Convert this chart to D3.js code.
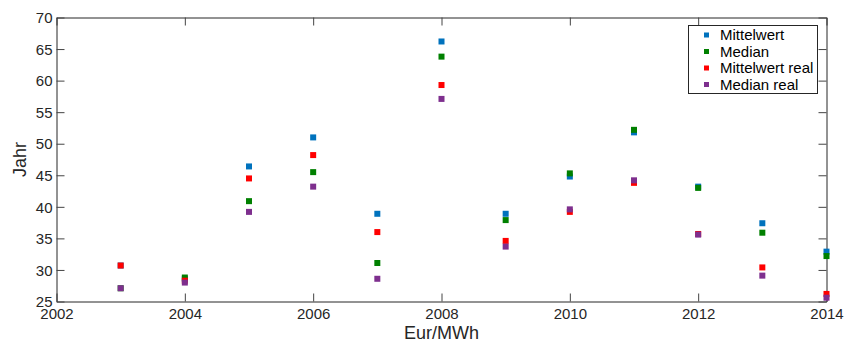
<!DOCTYPE html>
<html><head><meta charset="utf-8">
<script src="https://cdn.jsdelivr.net/npm/d3@7/dist/d3.min.js"></script>
<style>body{margin:0;background:#fff}svg{display:block;font-family:"Liberation Sans",Arial,sans-serif}</style>
</head><body><svg id="c" width="848" height="347"></svg>
<script>
const years = [2003,2004,2005,2006,2007,2008,2009,2010,2011,2012,2013,2014];
const mittelwert     = [30.7,28.6,46.4,51.0,38.9,66.2,38.9,44.8,51.8,43.2,37.4,32.9];
const median         = [27.1,28.8,40.9,45.5,31.1,63.8,37.9,45.3,52.2,43.0,35.9,32.2];
const mittelwertReal = [30.7,28.3,44.5,48.2,36.0,59.3,34.6,39.2,43.8,35.7,30.4,26.2];
const medianReal     = [27.1,28.0,39.2,43.2,28.6,57.1,33.7,39.6,44.2,35.6,29.1,25.6];
const seriesNames = ["Mittelwert","Median","Mittelwert real","Median real"];
const seriesColors = ["#0072BD","#008000","#FF0000","#7E2F8E"];
const xTicks = [2002,2004,2006,2008,2010,2012,2014];
const yTicks = [25,30,35,40,45,50,55,60,65,70];

const series = [mittelwert, median, mittelwertReal, medianReal];
const svg = d3.select("#c");
const L=56.5, R=826.5, T=17.5, B=301.5;
const x = d3.scaleLinear().domain([2002,2014]).range([L,R]);
const y = d3.scaleLinear().domain([25,70]).range([B,T]);
const tk = 8;

// axes
const gB = svg.append("g").attr("transform",`translate(0,${B})`)
  .call(d3.axisBottom(x).tickValues(xTicks).tickFormat(d3.format("d")).tickSizeInner(-tk).tickSizeOuter(0).tickPadding(4));
const gT = svg.append("g").attr("transform",`translate(0,${T})`)
  .call(d3.axisTop(x).tickValues(xTicks).tickFormat("").tickSizeInner(-tk).tickSizeOuter(0));
const gL = svg.append("g").attr("transform",`translate(${L},0)`)
  .call(d3.axisLeft(y).tickValues(yTicks).tickSizeInner(-tk).tickSizeOuter(0).tickPadding(4));
const gR = svg.append("g").attr("transform",`translate(${R},0)`)
  .call(d3.axisRight(y).tickValues(yTicks).tickFormat("").tickSizeInner(-tk).tickSizeOuter(0));
[gB,gT,gL,gR].forEach(g=>{
  g.selectAll(".domain").attr("stroke","#262626").attr("stroke-width",1);
  g.selectAll(".tick line").attr("stroke","#444").attr("stroke-width",1);
  g.selectAll("text").attr("font-size",15).attr("fill","#262626").attr("font-family","Liberation Sans, Arial, sans-serif");
});
gB.selectAll("text").attr("dy","0.9em");
gL.selectAll("text").attr("dy","0.35em");

// points
series.forEach((s,i)=>{
  svg.append("g").selectAll("rect").data(s).join("rect")
    .attr("x",(d,j)=>x(years[j])-3).attr("y",d=>y(d)-3)
    .attr("width",6).attr("height",6).attr("fill",seriesColors[i]);
});

// labels
svg.append("text").attr("x",(L+R)/2).attr("y",339).attr("text-anchor","middle")
  .attr("font-size",18).attr("fill","#262626").text("Eur/MWh");
svg.append("text").attr("transform",`translate(26,${(T+B)/2}) rotate(-90)`).attr("text-anchor","middle")
  .attr("font-size",18).attr("fill","#262626").text("Jahr");

// legend
const lg = svg.append("g");
lg.append("rect").attr("x",688.5).attr("y",25.5).attr("width",129).attr("height",68)
  .attr("fill","#fff").attr("stroke","#262626").attr("stroke-width",1);
seriesNames.forEach((n,i)=>{
  const cy = 35 + i*16.5;
  lg.append("rect").attr("x",704).attr("y",cy-2.5).attr("width",5).attr("height",5).attr("fill",seriesColors[i]);
  lg.append("text").attr("x",720).attr("y",cy).attr("dy","0.35em").attr("font-size",15).attr("fill","#000").text(n);
});
</script></body></html>
